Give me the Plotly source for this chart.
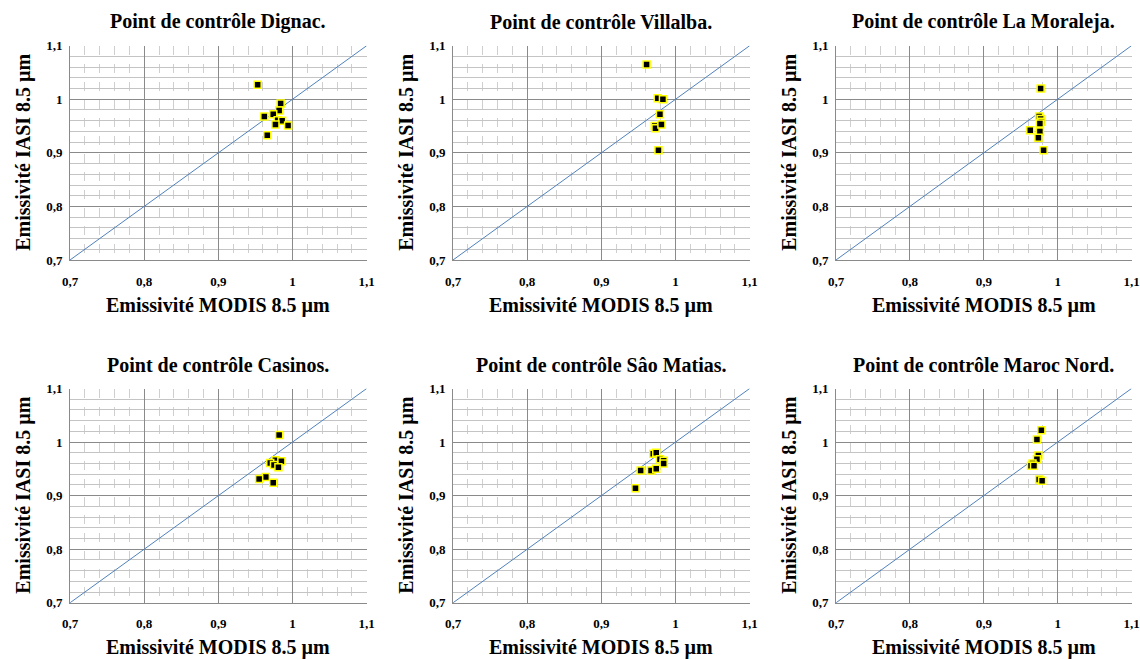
import plotly.graph_objects as go

titles = ["Point de contrôle Dignac.", "Point de contrôle Villalba.", "Point de contrôle La Moraleja.",
          "Point de contrôle Casinos.", "Point de contrôle Sâo Matias.", "Point de contrôle Maroc Nord."]

dignac_x = [0.953, 0.984, 0.982, 0.974, 0.962, 0.980, 0.986, 0.977, 0.994, 0.966]
dignac_y = [1.027, 0.992, 0.979, 0.972, 0.968, 0.961, 0.960, 0.953, 0.951, 0.933]

villalba_x = [0.961, 0.976, 0.983, 0.979, 0.972, 0.973, 0.981, 0.977]
villalba_y = [1.065, 1.002, 1.000, 0.972, 0.950, 0.946, 0.953, 0.905]

moraleja_x = [0.977, 0.975, 0.977, 0.978, 0.976, 0.963, 0.976, 0.974, 0.981]
moraleja_y = [1.020, 0.968, 0.963, 0.958, 0.955, 0.942, 0.940, 0.928, 0.905]

casinos_x = [0.982, 0.977, 0.985, 0.970, 0.975, 0.981, 0.964, 0.955, 0.974]
casinos_y = [1.013, 0.966, 0.964, 0.961, 0.957, 0.953, 0.935, 0.931, 0.924]

matias_x = [0.970, 0.974, 0.979, 0.984, 0.984, 0.953, 0.967, 0.974, 0.946]
matias_y = [0.978, 0.980, 0.968, 0.965, 0.960, 0.947, 0.947, 0.950, 0.914]

maroc_x = [0.978, 0.972, 0.974, 0.972, 0.966, 0.964, 0.968, 0.975, 0.979]
maroc_y = [1.022, 1.005, 0.975, 0.968, 0.960, 0.956, 0.956, 0.930, 0.928]

diag = [0.7, 1.1]
tick_vals = [0.7, 0.8, 0.9, 1.0, 1.1]
tick_text = ["0,7", "0,8", "0,9", "1", "1,1"]
x_title = "Emissivité MODIS 8.5 µm"
y_title = "Emissivité IASI 8.5 µm"

series = [(dignac_x, dignac_y), (villalba_x, villalba_y), (moraleja_x, moraleja_y),
          (casinos_x, casinos_y), (matias_x, matias_y), (maroc_x, maroc_y)]

W, H = 1140, 660
col_px = [(70, 366.7), (453, 749.7), (836, 1131.5)]
row_px = [(45.7, 260), (388.5, 602.8)]

FONT = "Times New Roman, Liberation Serif, DejaVu Serif, serif"
fig = go.Figure()
layout = dict(width=W, height=H, margin=dict(l=0, r=0, t=0, b=0, autoexpand=False),
              paper_bgcolor="white", plot_bgcolor="white", showlegend=False)
annotations = []

for i, (sx, sy) in enumerate(series):
    r, c = divmod(i, 3)
    n = "" if i == 0 else str(i + 1)
    xa, ya = "x" + n, "y" + n
    fig.add_trace(go.Scatter(x=diag, y=diag, mode="lines", line=dict(color="#4f81bd", width=1),
                             xaxis=xa, yaxis=ya, hoverinfo="skip"))
    fig.add_trace(go.Scatter(x=sx, y=sy, mode="markers",
                             marker=dict(symbol="square", size=7, color="black",
                                         line=dict(color="#ffff00", width=1.5)),
                             xaxis=xa, yaxis=ya))
    x0, x1 = col_px[c]
    y0, y1 = row_px[r]
    common = dict(range=[0.7, 1.1], tickvals=tick_vals, ticktext=tick_text, automargin=False,
                  showgrid=True, gridcolor="#8a8a8a", gridwidth=1, zeroline=False,
                  showline=True, linecolor="#8a8a8a", linewidth=1, ticklabeloverflow="allow",
                  ticks="", tickfont=dict(family=FONT, size=13, color="black", weight="bold"))
    layout["xaxis" + n] = dict(common, domain=[x0 / W, x1 / W], anchor=ya, ticklabelstandoff=9,
                               minor=dict(dtick=0.02, tick0=0.7, showgrid=True, gridcolor="#cfcfcf",
                                          griddash="dash", gridwidth=1))
    layout["yaxis" + n] = dict(common, domain=[1 - y1 / H, 1 - y0 / H], anchor=xa, ticklabelstandoff=4,
                               minor=dict(dtick=0.02, tick0=0.7, showgrid=True, gridcolor="#c4c4c4",
                                          gridwidth=1))
    cx = (x0 + x1) / 2
    annotations.append(dict(text="<b>%s</b>" % titles[i], x=cx / W, y=1 - (y0 - 24) / H,
                            xref="paper", yref="paper", showarrow=False, xanchor="center", yanchor="middle",
                            font=dict(family=FONT, size=20, color="black")))
    annotations.append(dict(text="<b>%s</b>" % x_title, x=cx / W, y=1 - (y1 + 45) / H,
                            xref="paper", yref="paper", showarrow=False, xanchor="center", yanchor="middle",
                            font=dict(family=FONT, size=20, color="black")))
    annotations.append(dict(text="<b>%s</b>" % y_title, x=(x0 - 46) / W, y=1 - ((y0 + y1) / 2) / H,
                            xref="paper", yref="paper", showarrow=False, xanchor="center", yanchor="middle",
                            textangle=-90, font=dict(family=FONT, size=20, color="black")))

layout["annotations"] = annotations
fig.update_layout(**layout)
fig.write_html("out.html", config={"displayModeBar": False},
               post_script="document.body.style.margin='0px';")
